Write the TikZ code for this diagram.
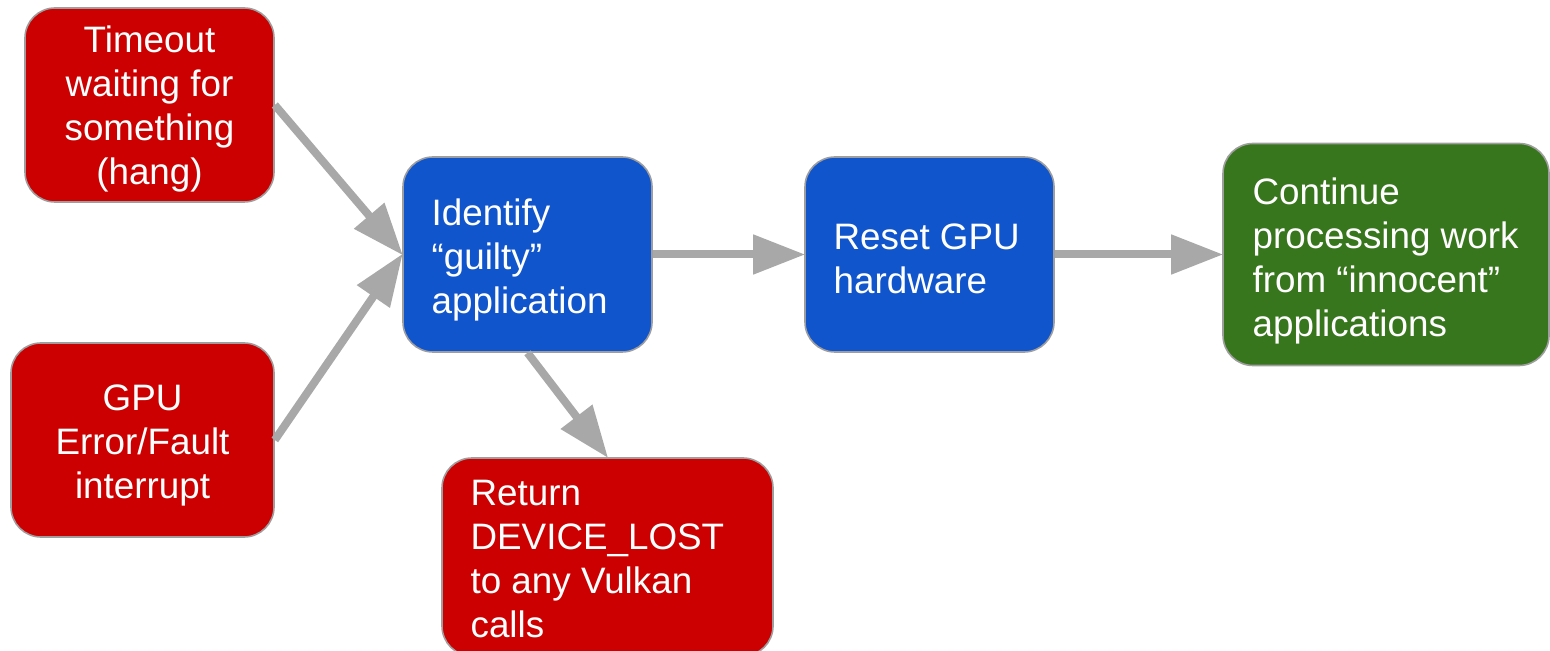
\documentclass[tikz,border=0pt]{standalone}
\usepackage{fontspec}
\setmainfont{Liberation Sans}
\usetikzlibrary{arrows.meta}
\definecolor{fillred}{HTML}{CC0000}
\definecolor{fillblue}{HTML}{1155CC}
\definecolor{fillgreen}{HTML}{38761D}
\definecolor{edgegray}{HTML}{9E9E9E}
\definecolor{arrowgray}{HTML}{A8A8A8}
\tikzset{
  stage/.style={draw=edgegray, line width=0.8pt, rounded corners=15pt,
    rectangle, inner sep=0pt},
  caption/.style={text=white, font=\fontsize{18.4}{22}\selectfont,
    inner sep=0pt},
  flow/.style={draw=arrowgray, line width=4pt,
    -{Triangle[length=26pt,width=19pt]}, shorten >=-0.5pt},
}
\begin{document}
\begin{tikzpicture}[x=0.5pt,y=-0.5pt]
\useasboundingbox (0,0) rectangle (1550,651);
\begin{scope}
\clip (0,0) rectangle (1550,651);
% error sources
\node[stage, fill=fillred, minimum width=124.5pt, minimum height=97pt]
  (timeout) at (149.5,105) {};
\node[caption, align=center] (timeoutT)
  at ([yshift=-2pt]timeout.center)
  {Timeout\\waiting for\\something\\(hang)};
\node[stage, fill=fillred, minimum width=131.5pt, minimum height=97pt]
  (fault) at (142.5,440) {};
\node[caption, align=center] (faultT)
  at ([yshift=-2.5pt]fault.center)
  {GPU\\Error/Fault\\interrupt};
% recovery stages
\node[stage, fill=fillblue, minimum width=124.5pt, minimum height=97.5pt]
  (identify) at (527.5,254.5) {};
\node[caption, align=left, anchor=west] (identifyT)
  at ([xshift=14.5pt,yshift=-2.5pt]identify.west)
  {Identify\\“guilty”\\application};
\node[stage, fill=fillblue, minimum width=124.5pt, minimum height=97.5pt]
  (reset) at (929.5,254.5) {};
\node[caption, align=left, anchor=west] (resetT)
  at ([xshift=14.5pt,yshift=-2pt]reset.west)
  {Reset GPU\\hardware};
\node[stage, fill=fillgreen, minimum width=163pt, minimum height=111pt]
  (cont) at (1386,254.5) {};
\node[caption, align=left, anchor=west] (contT)
  at ([xshift=15pt,yshift=-3.25pt]cont.west)
  {Continue\\processing work\\from “innocent”\\applications};
\node[stage, fill=fillred, minimum width=165.5pt, minimum height=99pt]
  (lost) at (607.5,557) {};
\node[caption, align=left, anchor=west] (lostT)
  at ([xshift=14.5pt,yshift=-1pt]lost.west)
  {Return\\DEVICE\_LOST\\to any Vulkan\\calls};
\end{scope}
% connectors
\draw[flow] (timeout.east) -- (identify.west);
\draw[flow] (fault.east) -- (identify.west);
\draw[flow] (identify.east) -- (reset.west);
\draw[flow] (reset.east) -- (cont.west);
\draw[flow] (identify.south) -- (lost.north);
\end{tikzpicture}
\end{document}
